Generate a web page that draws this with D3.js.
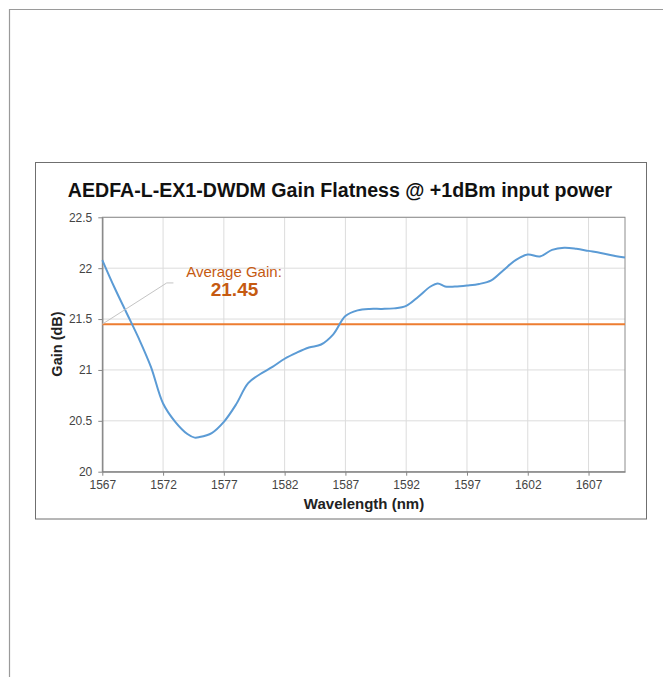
<!DOCTYPE html>
<html>
<head>
<meta charset="utf-8">
<script src="https://cdn.jsdelivr.net/npm/d3@7"></script>
<style>
  body { margin: 0; background: #fff; }
  text { font-family: "Liberation Sans", Arial, sans-serif; }
</style>
</head>
<body>
<div id="chart"></div>
<script>
// wavelength (nm) and gain (dB)
var wavelength = [1567, 1568, 1569, 1570, 1571, 1572, 1573, 1574, 1574.6, 1575, 1576, 1577, 1578,
    1579, 1580, 1581, 1582, 1583, 1584, 1585, 1586, 1587, 1588, 1589, 1590, 1591, 1592, 1593,
    1594, 1594.6, 1595.2, 1596, 1597, 1598, 1599, 1600, 1601, 1602, 1603, 1604, 1605, 1606,
    1607, 1608, 1609, 1610];
var gain = [22.08, 21.81, 21.56, 21.31, 21.03, 20.67, 20.49, 20.37, 20.335, 20.34, 20.38, 20.49, 20.66,
    20.87, 20.96, 21.03, 21.11, 21.17, 21.22, 21.25, 21.35, 21.53, 21.585, 21.60, 21.60, 21.605, 21.63, 21.72,
    21.82, 21.85, 21.82, 21.82, 21.83, 21.845, 21.88, 21.98, 22.08, 22.135, 22.115, 22.18, 22.20, 22.19,
    22.17, 22.15, 22.125, 22.105];
var averageGain = 21.45;
var xTicks = [1567, 1572, 1577, 1582, 1587, 1592, 1597, 1602, 1607];
var yTicks = [20, 20.5, 21, 21.5, 22, 22.5];

var title = "AEDFA-L-EX1-DWDM Gain Flatness @ +1dBm input power";

var data = wavelength.map(function(w, i) { return {x: w, y: gain[i]}; });

var svg = d3.select("#chart")
    .append("svg")
    .attr("width", 663)
    .attr("height", 677);

// outer frame of the page
svg.append("path")
    .attr("d", "M9.5,677V9.5H663")
    .attr("fill", "none")
    .attr("stroke", "#9a9a9a")
    .attr("stroke-width", 1.2);

// chart box
svg.append("rect")
    .attr("x", 35.5).attr("y", 162.5)
    .attr("width", 611).attr("height", 356.5)
    .attr("fill", "#fff")
    .attr("stroke", "#6f6f6f")
    .attr("stroke-width", 1);

var margin = {top: 217.3, left: 102.3},
    width = 522.7,
    height = 254.4;

var g = svg.append("g")
    .attr("transform", "translate(" + margin.left + "," + margin.top + ")");

var x = d3.scaleLinear().domain([1567, 1610]).range([0, width]);
var y = d3.scaleLinear().domain([20, 22.5]).range([height, 0]);

// gridlines
g.append("g")
    .selectAll("line")
    .data(xTicks.slice(1))
    .enter().append("line")
    .attr("x1", function(d) { return x(d); })
    .attr("x2", function(d) { return x(d); })
    .attr("y1", 0).attr("y2", height)
    .attr("stroke", "#dcdcdc");
g.append("g")
    .selectAll("line")
    .data(yTicks.slice(1))
    .enter().append("line")
    .attr("x1", 0).attr("x2", width)
    .attr("y1", function(d) { return y(d); })
    .attr("y2", function(d) { return y(d); })
    .attr("stroke", "#dcdcdc");

// plot area border
g.append("rect")
    .attr("width", width).attr("height", height)
    .attr("fill", "none")
    .attr("stroke", "#8c8c8c");

// axes
var xAxis = g.append("g")
    .attr("transform", "translate(0," + height + ")")
    .call(d3.axisBottom(x).tickValues(xTicks).tickFormat(d3.format("d")).tickSize(4).tickSizeOuter(0).tickPadding(5));
var yAxis = g.append("g")
    .call(d3.axisLeft(y).tickValues(yTicks).tickFormat(function(d) { return String(d); }).tickSize(4).tickSizeOuter(0).tickPadding(6));

[xAxis, yAxis].forEach(function(a) {
    a.select(".domain").attr("stroke", "#868686").attr("stroke-width", 1.3);
    a.selectAll(".tick line").attr("stroke", "#868686");
    a.selectAll(".tick text")
        .attr("fill", "#444")
        .style("font-family", "'Liberation Sans', Arial, sans-serif")
        .style("font-size", "12px");
});

// average gain line
g.append("line")
    .attr("x1", 0).attr("x2", width)
    .attr("y1", y(averageGain)).attr("y2", y(averageGain))
    .attr("stroke", "#ED7D31")
    .attr("stroke-width", 2);

// gain curve
var line = d3.line()
    .x(function(d) { return x(d.x); })
    .y(function(d) { return y(d.y); })
    .curve(d3.curveCatmullRom.alpha(0.5));

g.append("path")
    .datum(data)
    .attr("fill", "none")
    .attr("stroke", "#5B9BD5")
    .attr("stroke-width", 2)
    .attr("d", line);

// annotation leader
g.append("path")
    .attr("d", "M" + x(1567) + "," + y(averageGain) + "L" + x(1572.3) + "," + y(21.855) + "H" + x(1572.85))
    .attr("fill", "none")
    .attr("stroke", "#c4c4c4")
    .attr("stroke-width", 1);

svg.append("text")
    .attr("x", 234).attr("y", 277)
    .attr("text-anchor", "middle")
    .attr("fill", "#C55A11")
    .style("font-size", "15px")
    .text("Average Gain:");
svg.append("text")
    .attr("x", 234.5).attr("y", 296)
    .attr("text-anchor", "middle")
    .attr("fill", "#C55A11")
    .style("font-size", "19px")
    .style("font-weight", "bold")
    .text(averageGain.toFixed(2));

// title and axis titles
svg.append("text")
    .attr("x", 340).attr("y", 197)
    .attr("text-anchor", "middle")
    .attr("fill", "#111")
    .style("font-size", "19.6px")
    .style("font-weight", "bold")
    .text(title);

svg.append("text")
    .attr("x", 364).attr("y", 509)
    .attr("text-anchor", "middle")
    .attr("fill", "#222")
    .style("font-size", "15px")
    .style("font-weight", "bold")
    .text("Wavelength (nm)");

svg.append("text")
    .attr("transform", "translate(62,344) rotate(-90)")
    .attr("text-anchor", "middle")
    .attr("fill", "#222")
    .style("font-size", "14.5px")
    .style("font-weight", "bold")
    .text("Gain (dB)");
</script>
</body>
</html>
